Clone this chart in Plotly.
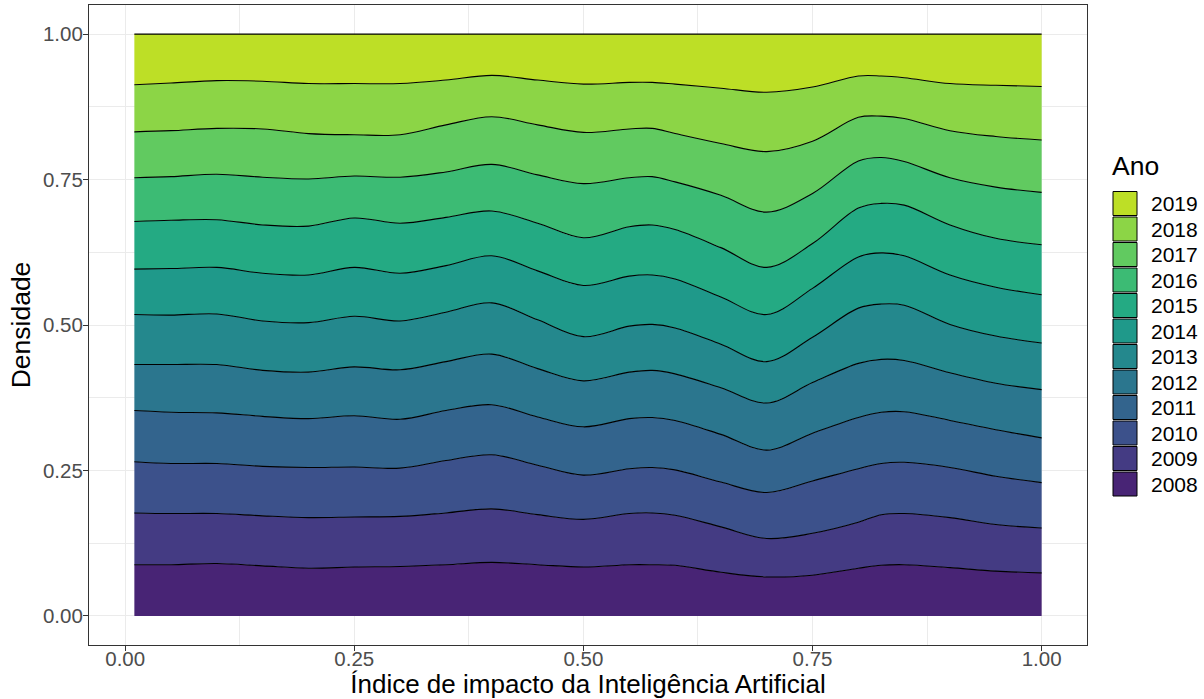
import plotly.graph_objects as go

# ---------------- data ----------------
anos = ["2008", "2009", "2010", "2011", "2012", "2013",
        "2014", "2015", "2016", "2017", "2018", "2019"]

indice = [0.01, 0.05, 0.10, 0.15, 0.20, 0.25, 0.30, 0.35, 0.40, 0.45, 0.50, 0.55,
          0.575, 0.60, 0.65, 0.70, 0.75, 0.80, 0.825, 0.85, 0.90, 0.95, 1.00]

# upper edge of each year's band in the filled (position = "fill") density stack
topo_2008 = [0.088, 0.088, 0.090, 0.086, 0.082, 0.084, 0.085, 0.088, 0.092, 0.088, 0.084, 0.088,
             0.088, 0.087, 0.075, 0.067, 0.070, 0.082, 0.087, 0.088, 0.083, 0.077, 0.074]
topo_2009 = [0.177, 0.176, 0.176, 0.172, 0.169, 0.170, 0.171, 0.177, 0.184, 0.174, 0.166, 0.176,
             0.177, 0.173, 0.153, 0.133, 0.142, 0.161, 0.174, 0.176, 0.169, 0.157, 0.151]
topo_2010 = [0.265, 0.262, 0.262, 0.257, 0.255, 0.256, 0.254, 0.267, 0.277, 0.259, 0.242, 0.253,
             0.255, 0.251, 0.230, 0.212, 0.232, 0.253, 0.262, 0.264, 0.255, 0.240, 0.229]
topo_2011 = [0.353, 0.350, 0.349, 0.343, 0.339, 0.344, 0.338, 0.353, 0.363, 0.342, 0.325, 0.339,
             0.341, 0.336, 0.312, 0.285, 0.314, 0.341, 0.350, 0.351, 0.336, 0.320, 0.306]
topo_2012 = [0.432, 0.432, 0.432, 0.422, 0.419, 0.428, 0.423, 0.437, 0.450, 0.425, 0.404, 0.419,
             0.422, 0.416, 0.392, 0.366, 0.401, 0.434, 0.441, 0.439, 0.418, 0.400, 0.389]
topo_2013 = [0.518, 0.517, 0.519, 0.507, 0.504, 0.515, 0.507, 0.522, 0.538, 0.509, 0.480, 0.498,
             0.501, 0.495, 0.467, 0.437, 0.479, 0.529, 0.536, 0.534, 0.501, 0.481, 0.469]
topo_2014 = [0.596, 0.597, 0.599, 0.589, 0.586, 0.599, 0.589, 0.602, 0.619, 0.593, 0.568, 0.584,
             0.586, 0.579, 0.548, 0.518, 0.563, 0.617, 0.624, 0.619, 0.586, 0.565, 0.552]
topo_2015 = [0.678, 0.680, 0.681, 0.672, 0.670, 0.684, 0.675, 0.685, 0.696, 0.675, 0.650, 0.669,
             0.672, 0.664, 0.633, 0.599, 0.640, 0.701, 0.709, 0.706, 0.672, 0.649, 0.638]
topo_2016 = [0.753, 0.755, 0.759, 0.754, 0.751, 0.756, 0.754, 0.763, 0.776, 0.758, 0.743, 0.753,
             0.755, 0.746, 0.723, 0.694, 0.726, 0.782, 0.788, 0.781, 0.753, 0.737, 0.728]
topo_2017 = [0.832, 0.834, 0.838, 0.837, 0.829, 0.827, 0.827, 0.844, 0.858, 0.844, 0.831, 0.837,
             0.838, 0.829, 0.812, 0.798, 0.816, 0.857, 0.859, 0.855, 0.834, 0.824, 0.818]
topo_2018 = [0.913, 0.916, 0.920, 0.919, 0.915, 0.915, 0.915, 0.921, 0.929, 0.921, 0.914, 0.917,
             0.917, 0.914, 0.907, 0.900, 0.909, 0.928, 0.928, 0.925, 0.915, 0.912, 0.910]
topo_2019 = [1.000, 1.000, 1.000, 1.000, 1.000, 1.000, 1.000, 1.000, 1.000, 1.000, 1.000, 1.000,
             1.000, 1.000, 1.000, 1.000, 1.000, 1.000, 1.000, 1.000, 1.000, 1.000, 1.000]

cores = ["#482475", "#443B83", "#3C518B", "#33648D", "#2B768E", "#24888D",
         "#1F998A", "#24AA83", "#3CBB74", "#61CA60", "#8CD546", "#BDDF26"]

ticks_x = [0.00, 0.25, 0.50, 0.75, 1.00]
ticks_y = [0.00, 0.25, 0.50, 0.75, 1.00]
rotulos_x = ["0.00", "0.25", "0.50", "0.75", "1.00"]
rotulos_y = ["0.00", "0.25", "0.50", "0.75", "1.00"]

titulo_x = "Índice de impacto da Inteligência Artificial"
titulo_y = "Densidade"
titulo_legenda = "Ano"

series = [topo_2008, topo_2009, topo_2010, topo_2011, topo_2012, topo_2013,
          topo_2014, topo_2015, topo_2016, topo_2017, topo_2018, topo_2019]

# ---------------- layout constants ----------------
W, H = 1204, 699
ML, MR, MT, MB = 89, 117, 5, 54
PW, PH = W - ML - MR, H - MT - MB
FONT = "Liberation Sans, Arial, Helvetica, sans-serif"


def px_x(px):
    return (px - ML) / PW


def px_y(py):
    return (H - MB - py) / PH


fig = go.Figure()
for i, (ano, topo, cor) in enumerate(zip(anos, series, cores)):
    fig.add_trace(go.Scatter(
        x=indice, y=topo, name=ano, mode="lines",
        line=dict(color="black", width=1.1, shape="spline", smoothing=1.0),
        fill="tozeroy" if i == 0 else "tonexty",
        fillcolor=cor, showlegend=False,
    ))

# ---------------- manual legend (ggplot-style keys) ----------------
shapes = []
annotations = []
key_x0, key_x1 = 1113, 1137
first_center, pitch, half = 203.5, 25.5, 12
ordem = list(range(len(anos)))[::-1]
for k, idx in enumerate(ordem):
    cy = first_center + pitch * k
    shapes.append(dict(
        type="rect", xref="paper", yref="paper",
        x0=px_x(key_x0), x1=px_x(key_x1),
        y0=px_y(cy + half), y1=px_y(cy - half),
        fillcolor=cores[idx], line=dict(color="black", width=1),
    ))
    annotations.append(dict(
        x=px_x(1149), y=px_y(cy), xref="paper", yref="paper",
        text=anos[idx], showarrow=False, xanchor="left", yanchor="middle",
        font=dict(family=FONT, size=21, color="black"),
    ))
annotations.append(dict(
    x=px_x(1110), y=px_y(166), xref="paper", yref="paper",
    text=titulo_legenda, showarrow=False, xanchor="left", yanchor="middle",
    font=dict(family=FONT, size=26.5, color="black"),
))

axis_common = dict(
    showline=True, linecolor="#333333", linewidth=1.1, mirror=True,
    showgrid=True, gridcolor="#EBEBEB", gridwidth=1.1,
    ticks="outside", ticklen=5, tickwidth=1.1, tickcolor="#333333",
    tickfont=dict(family=FONT, size=20.5, color="#4D4D4D"),
    zeroline=False, automargin=False,
    minor=dict(dtick=0.125, showgrid=True, gridcolor="#EBEBEB", gridwidth=0.55, ticks=""),
)

fig.update_layout(
    width=W, height=H,
    margin=dict(l=ML, r=MR, t=MT, b=MB),
    paper_bgcolor="white", plot_bgcolor="white",
    font=dict(family=FONT),
    shapes=shapes, annotations=annotations,
    xaxis=dict(range=[-0.0395, 1.0495], tickvals=ticks_x, ticktext=rotulos_x,
               ticklabelstandoff=-10,
               title=dict(text=titulo_x, font=dict(family=FONT, size=26, color="black"), standoff=8),
               **axis_common),
    yaxis=dict(range=[-0.05, 1.05], tickvals=ticks_y, ticktext=rotulos_y,
               ticklabelstandoff=-4,
               title=dict(text=titulo_y, font=dict(family=FONT, size=26.5, color="black"), standoff=4),
               **axis_common),
)

fig.write_html("out.html")
